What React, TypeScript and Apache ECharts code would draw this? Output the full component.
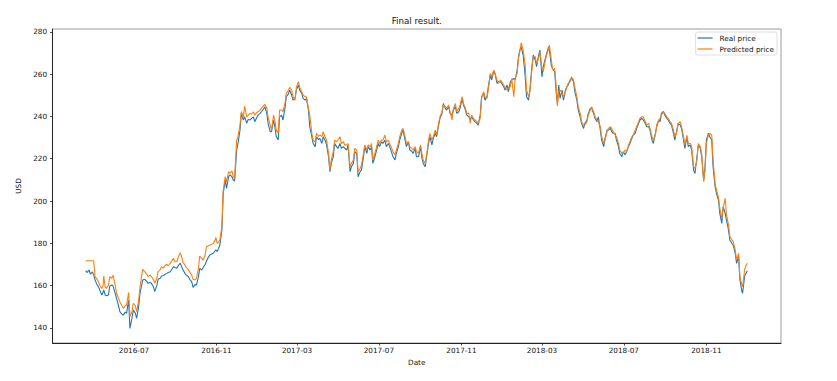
import React, { useEffect, useRef } from "react";
import * as echarts from "echarts";

const dates: string[] = [
  "2016-04-20","2016-04-22","2016-04-25","2016-04-27","2016-04-30","2016-05-02","2016-05-04","2016-05-07","2016-05-09","2016-05-11",
  "2016-05-14","2016-05-16","2016-05-17","2016-05-19","2016-05-21","2016-05-24","2016-05-26","2016-05-29","2016-05-31","2016-06-03",
  "2016-06-05","2016-06-08","2016-06-10","2016-06-13","2016-06-15","2016-06-18","2016-06-20","2016-06-23","2016-06-25","2016-06-28",
  "2016-06-30","2016-07-03","2016-07-05","2016-07-08","2016-07-10","2016-07-14","2016-07-17","2016-07-20","2016-07-22","2016-07-25",
  "2016-07-27","2016-07-30","2016-08-01","2016-08-04","2016-08-06","2016-08-09","2016-08-11","2016-08-14","2016-08-16","2016-08-19",
  "2016-08-21","2016-08-24","2016-08-26","2016-08-29","2016-08-31","2016-09-03","2016-09-05","2016-09-08","2016-09-10","2016-09-12",
  "2016-09-15","2016-09-17","2016-09-20","2016-09-22","2016-09-25","2016-09-27","2016-09-30","2016-10-02","2016-10-05","2016-10-07",
  "2016-10-10","2016-10-12","2016-10-15","2016-10-17","2016-10-20","2016-10-22","2016-10-25","2016-10-27","2016-10-30","2016-10-31",
  "2016-11-02","2016-11-04","2016-11-06","2016-11-09","2016-11-11","2016-11-14","2016-11-16","2016-11-19","2016-11-21","2016-11-24",
  "2016-11-26","2016-11-28","2016-12-01","2016-12-03","2016-12-06","2016-12-08","2016-12-11","2016-12-13","2016-12-16","2016-12-18",
  "2016-12-21","2016-12-23","2016-12-26","2016-12-28","2016-12-31","2017-01-02","2017-01-05","2017-01-07","2017-01-10","2017-01-12",
  "2017-01-15","2017-01-17","2017-01-20","2017-01-22","2017-01-25","2017-01-27","2017-01-29","2017-02-01","2017-02-03","2017-02-06",
  "2017-02-08","2017-02-11","2017-02-13","2017-02-16","2017-02-18","2017-02-21","2017-02-23","2017-02-26","2017-02-28","2017-03-03",
  "2017-03-05","2017-03-08","2017-03-10","2017-03-13","2017-03-15","2017-03-18","2017-03-20","2017-03-23","2017-03-25","2017-03-28",
  "2017-03-30","2017-04-02","2017-04-04","2017-04-07","2017-04-09","2017-04-12","2017-04-14","2017-04-17","2017-04-19","2017-04-21",
  "2017-04-24","2017-04-26","2017-04-29","2017-05-01","2017-05-04","2017-05-06","2017-05-09","2017-05-11","2017-05-14","2017-05-16",
  "2017-05-19","2017-05-21","2017-05-24","2017-05-26","2017-05-29","2017-05-31","2017-06-03","2017-06-05","2017-06-08","2017-06-10",
  "2017-06-13","2017-06-15","2017-06-18","2017-06-20","2017-06-22","2017-06-25","2017-06-27","2017-06-30","2017-07-02","2017-07-05",
  "2017-07-07","2017-07-10","2017-07-12","2017-07-15","2017-07-17","2017-07-20","2017-07-22","2017-07-25","2017-07-27","2017-07-30",
  "2017-08-01","2017-08-04","2017-08-06","2017-08-09","2017-08-11","2017-08-14","2017-08-16","2017-08-19","2017-08-21","2017-08-24",
  "2017-08-26","2017-08-29","2017-09-01","2017-09-03","2017-09-05","2017-09-08","2017-09-10","2017-09-13","2017-09-15","2017-09-18",
  "2017-09-20","2017-09-23","2017-09-25","2017-09-28","2017-09-30","2017-10-03","2017-10-05","2017-10-08","2017-10-10","2017-10-13",
  "2017-10-15","2017-10-18","2017-10-20","2017-10-23","2017-10-25","2017-10-28","2017-10-30","2017-11-02","2017-11-04","2017-11-07",
  "2017-11-09","2017-11-12","2017-11-14","2017-11-16","2017-11-19","2017-11-21","2017-11-24","2017-11-26","2017-11-29","2017-12-01",
  "2017-12-04","2017-12-06","2017-12-09","2017-12-11","2017-12-14","2017-12-16","2017-12-19","2017-12-21","2017-12-24","2017-12-26",
  "2017-12-29","2017-12-31","2018-01-03","2018-01-05","2018-01-08","2018-01-10","2018-01-13","2018-01-15","2018-01-18","2018-01-20",
  "2018-01-23","2018-01-25","2018-01-27","2018-01-29","2018-02-01","2018-02-04","2018-02-06","2018-02-09","2018-02-11","2018-02-14",
  "2018-02-16","2018-02-19","2018-02-21","2018-02-24","2018-02-26","2018-03-01","2018-03-03","2018-03-06","2018-03-08","2018-03-11",
  "2018-03-12","2018-03-15","2018-03-17","2018-03-20","2018-03-22","2018-03-24","2018-03-26","2018-03-28","2018-03-31","2018-04-02",
  "2018-04-05","2018-04-07","2018-04-09","2018-04-12","2018-04-14","2018-04-17","2018-04-19","2018-04-22","2018-04-24","2018-04-27",
  "2018-04-29","2018-05-02","2018-05-04","2018-05-07","2018-05-09","2018-05-12","2018-05-14","2018-05-17","2018-05-19","2018-05-22",
  "2018-05-24","2018-05-27","2018-05-29","2018-06-01","2018-06-03","2018-06-06","2018-06-08","2018-06-11","2018-06-13","2018-06-15",
  "2018-06-18","2018-06-20","2018-06-23","2018-06-25","2018-06-28","2018-06-30","2018-07-03","2018-07-05","2018-07-08","2018-07-10",
  "2018-07-13","2018-07-15","2018-07-18","2018-07-20","2018-07-23","2018-07-25","2018-07-28","2018-07-30","2018-08-02","2018-08-04",
  "2018-08-07","2018-08-09","2018-08-12","2018-08-14","2018-08-17","2018-08-19","2018-08-22","2018-08-24","2018-08-26","2018-08-29",
  "2018-08-31","2018-09-03","2018-09-05","2018-09-08","2018-09-10","2018-09-13","2018-09-15","2018-09-18","2018-09-20","2018-09-23",
  "2018-09-25","2018-09-28","2018-09-30","2018-10-03","2018-10-05","2018-10-08","2018-10-10","2018-10-13","2018-10-15","2018-10-18",
  "2018-10-20","2018-10-23","2018-10-25","2018-10-28","2018-10-30","2018-11-01","2018-11-04","2018-11-06","2018-11-09","2018-11-11",
  "2018-11-14","2018-11-16","2018-11-19","2018-11-21","2018-11-24","2018-11-26","2018-11-29","2018-12-01","2018-12-04","2018-12-06",
  "2018-12-09","2018-12-11","2018-12-14","2018-12-16","2018-12-19","2018-12-21","2018-12-24","2018-12-25","2018-12-28","2018-12-30",
  "2019-01-01"
];

const realPrice: number[] = [
  167.1,166.2,167.4,165.5,166.5,165.0,162.7,160.5,159.5,158.0,
  155.6,157.0,158.0,155.6,155.2,155.6,159.8,160.3,159.8,156.4,
  154.0,150.5,147.7,146.5,146.1,147.5,146.9,153.2,139.8,144.6,
  148.5,147.0,144.6,150.1,156.4,162.7,163.0,162.0,161.1,161.5,
  161.1,159.5,157.2,160.0,163.0,163.5,164.6,164.8,165.3,165.8,
  166.2,166.6,167.5,169.0,168.6,168.2,169.5,170.6,169.0,167.5,
  165.8,165.0,164.3,163.0,161.9,159.2,160.5,160.3,164.0,168.2,
  167.4,168.5,170.0,171.5,173.5,174.5,175.0,175.3,176.5,176.9,
  176.1,177.5,179.2,186.3,203.6,209.9,206.0,211.5,212.3,211.5,
  209.9,209.5,224.1,227.2,233.5,241.4,238.3,239.8,236.7,238.5,
  238.3,239.0,239.8,237.5,239.5,240.6,241.4,242.2,243.5,244.6,
  241.4,236.5,232.8,232.8,238.3,235.0,230.5,228.8,239.8,240.6,
  238.3,243.8,249.3,250.5,252.4,250.1,247.7,248.5,252.4,254.8,
  252.4,250.9,248.5,247.7,248.5,243.0,235.1,230.4,227.2,225.7,
  230.4,229.0,229.6,227.2,230.4,228.5,226.5,220.9,213.9,217.8,
  220.9,227.2,225.7,224.9,227.2,224.9,225.7,225.0,224.1,226.5,
  213.9,216.2,217.8,223.3,222.5,211.5,213.9,214.6,220.9,225.7,
  222.5,225.7,224.1,225.7,217.8,220.9,223.3,227.2,225.7,228.0,
  227.2,228.8,225.7,227.2,225.7,223.0,220.9,219.4,222.5,225.7,
  228.8,232.0,233.5,228.8,225.7,228.0,224.1,223.5,222.5,224.9,
  220.9,220.9,225.7,220.5,217.8,216.2,220.9,227.2,230.4,226.5,
  229.6,232.0,230.4,235.9,239.1,241.4,246.1,243.8,243.0,244.6,
  241.4,240.6,243.0,244.6,241.4,242.2,243.8,248.5,245.4,243.0,
  240.6,239.8,238.3,239.8,238.3,237.5,236.7,235.9,240.6,249.3,
  250.9,247.7,249.3,254.0,259.5,257.2,261.1,260.3,255.6,256.4,
  256.4,255.6,254.0,252.4,254.8,251.7,256.4,257.2,258.0,257.2,
  261.9,268.2,271.3,272.9,269.0,258.7,249.3,247.7,252.4,263.5,
  269.0,266.6,263.5,269.0,271.3,258.7,263.5,267.4,269.8,272.9,
  271.5,264.0,262.5,261.1,252.0,246.1,254.8,248.5,252.4,247.7,
  252.4,254.0,254.8,257.2,258.0,256.4,251.7,247.7,243.0,239.8,
  236.7,234.3,236.7,238.3,241.4,243.8,243.8,241.4,239.1,237.5,
  239.8,233.5,228.8,225.7,229.6,233.5,233.5,234.3,232.8,232.0,
  232.0,228.8,225.7,222.5,220.9,223.3,221.8,223.3,225.7,227.2,
  229.6,231.2,232.0,234.3,236.7,238.3,239.1,238.3,236.7,235.1,
  235.1,233.5,228.8,227.2,232.0,235.1,238.3,237.5,241.4,242.4,
  240.6,239.1,238.3,236.7,235.9,232.0,228.8,233.5,236.7,235.9,
  234.3,228.8,224.9,230.4,225.7,226.5,224.1,214.6,213.0,220.9,
  226.5,224.9,220.9,209.9,216.2,228.8,232.0,230.4,228.8,216.2,
  206.8,203.6,200.5,194.2,189.4,197.3,194.2,191.0,186.3,181.6,
  180.0,179.2,175.3,170.5,173.7,162.7,157.2,156.4,164.5,165.8,
  167.1
];

const predictedPrice: number[] = [
  171.8,171.8,171.8,171.8,171.8,171.8,164.3,163.0,161.9,160.3,
  158.7,160.0,164.6,159.5,158.7,160.3,164.3,163.5,164.9,160.3,
  156.4,154.0,152.4,150.5,149.3,150.5,150.9,156.7,145.4,147.7,
  151.7,150.5,147.7,153.2,159.5,167.7,166.6,165.5,164.3,165.0,
  164.3,163.0,161.1,163.5,166.6,167.5,169.0,168.2,169.5,170.1,
  169.3,170.6,171.5,172.9,171.3,171.3,173.5,175.6,173.7,171.0,
  169.8,168.5,167.7,166.5,165.0,163.0,162.7,163.5,168.0,174.0,
  172.9,172.0,174.5,178.4,178.8,179.2,179.6,180.0,181.5,182.8,
  180.0,180.5,181.6,187.9,205.2,211.5,209.1,213.9,213.1,214.3,
  211.5,210.7,228.8,230.4,235.9,242.2,239.8,244.9,239.8,240.5,
  241.4,241.0,242.2,240.6,241.8,242.2,243.0,243.8,245.0,245.8,
  243.8,239.5,235.9,233.5,240.6,238.0,233.5,232.0,243.0,243.0,
  242.2,246.1,250.9,252.2,253.7,252.4,249.3,247.7,253.7,256.4,
  253.7,251.7,250.1,249.3,249.3,243.8,240.6,232.0,228.8,228.0,
  232.0,230.5,231.2,230.4,232.8,230.0,228.8,222.5,214.6,219.4,
  223.3,228.8,228.0,228.8,230.4,227.2,228.0,226.5,226.5,227.2,
  216.2,217.8,219.4,224.9,224.1,213.9,215.4,216.9,222.5,226.5,
  224.1,226.5,225.7,227.2,219.4,222.5,224.9,228.8,227.2,228.8,
  228.8,231.2,227.8,228.8,227.2,225.0,223.3,221.8,224.1,227.2,
  230.4,233.5,234.3,230.4,227.2,228.0,225.7,224.9,224.1,225.7,
  223.3,222.5,226.5,222.5,219.4,217.8,221.5,228.8,232.0,228.8,
  230.4,233.5,231.2,236.7,239.8,242.2,245.4,244.6,243.8,245.4,
  242.2,238.3,243.8,246.1,242.2,243.8,245.4,249.3,246.1,243.8,
  241.4,241.4,236.7,240.6,239.1,238.3,237.5,236.7,239.1,248.5,
  251.7,249.3,248.5,252.4,260.3,258.7,261.9,260.3,257.2,255.6,
  257.2,256.4,254.8,253.7,252.4,253.7,254.0,257.9,249.3,257.9,
  260.3,267.4,270.5,274.8,271.3,264.3,252.4,249.3,251.7,261.9,
  268.2,268.2,265.0,267.4,270.5,262.7,261.1,266.6,269.0,272.1,
  273.7,266.6,261.9,262.7,254.8,244.9,251.7,252.4,250.9,249.3,
  251.7,253.7,255.6,256.4,258.7,257.2,253.7,249.3,244.6,241.4,
  237.5,235.9,235.9,237.5,240.6,243.0,244.6,242.2,239.8,238.3,
  237.5,235.1,230.4,227.2,228.8,232.8,234.3,235.1,234.3,232.8,
  231.2,230.4,227.2,224.1,222.5,222.5,224.1,223.3,226.5,228.0,
  230.4,231.2,233.5,235.1,237.5,239.1,239.8,239.8,237.5,235.9,
  236.7,234.3,230.4,228.8,231.2,235.9,238.3,239.1,240.6,242.2,
  241.4,239.8,239.1,237.5,236.7,233.5,230.4,232.8,236.7,237.5,
  235.1,230.4,226.5,231.2,227.2,227.2,225.7,216.2,215.4,219.4,
  227.2,225.7,222.5,209.1,214.6,227.2,231.2,232.0,231.2,219.4,
  208.3,205.2,202.0,196.6,191.8,196.6,201.3,193.4,188.7,183.2,
  181.6,180.8,176.9,172.1,175.3,164.3,160.3,159.5,167.5,169.5,
  170.6
];

const xTickLabels: string[] = ["2016-07", "2016-11", "2017-03", "2017-07", "2017-11", "2018-03", "2018-07", "2018-11"];
const yTickValues: number[] = [140, 160, 180, 200, 220, 240, 260, 280];

const FONT = "DejaVu Sans";

function toStamp(s: string): number {
  const [y, m, d] = s.split("-").map(Number);
  return new Date(y, m - 1, d || 1).getTime();
}

export default function App() {
  const ref = useRef<HTMLDivElement>(null);

  useEffect(() => {
    if (!ref.current) return;
    const chart = echarts.init(ref.current, undefined, { renderer: "svg" });
    const stamps = dates.map(toStamp);
    const realData = stamps.map((t, i) => [t, realPrice[i]]);
    const predData = stamps.map((t, i) => [t, predictedPrice[i]]);
    const xTicks = xTickLabels.map(toStamp);

    chart.setOption({
      animation: false,
      backgroundColor: "#ffffff",
      title: {
        text: "Final result.",
        left: 416.75,
        top: 16,
        textAlign: "center",
        padding: 0,
        textStyle: { fontFamily: FONT, fontSize: 8.7, fontWeight: "normal", color: "#111" },
      },
      legend: {
        data: ["Real price", "Predicted price"],
        orient: "vertical",
        right: 60,
        top: 32,
        padding: [2, 3, 2, 2],
        itemGap: 3,
        itemWidth: 15,
        itemHeight: 1.6,
        icon: "rect",
        itemStyle: { opacity: 0.75 },
        backgroundColor: "rgba(255,255,255,0.8)",
        borderColor: "#d6d6d6",
        borderWidth: 0.8,
        borderRadius: 2,
        textStyle: { fontFamily: FONT, fontSize: 7.25, color: "#111", lineHeight: 8, padding: [0, 0, 0, 2] },
      },
      grid: {
        left: 52.5,
        top: 29,
        width: 728.5,
        height: 314,
        outerBoundsMode: "none",
        containLabel: false,
        show: true,
        borderColor: "#9a9a9a",
        borderWidth: 1,
        backgroundColor: "transparent",
      },
      xAxis: {
        type: "value",
        min: new Date(2016, 2, 1, 14, 24).getTime(),
        max: new Date(2019, 1, 20, 5, 0).getTime(),
        scale: true,
        name: "Date",
        nameLocation: "middle",
        nameGap: 14.5,
        nameTextStyle: { fontFamily: FONT, fontSize: 7.25, color: "#111" },
        axisLine: { show: true, onZero: false, lineStyle: { color: "#222", width: 1 } },
        axisTick: { show: true, length: 2.5, inside: false, lineStyle: { color: "#222", width: 0.8 }, customValues: xTicks },
        axisLabel: {
          show: true,
          margin: 4,
          fontFamily: FONT,
          fontSize: 7.25,
          color: "#111",
          customValues: xTicks,
          hideOverlap: false,
          formatter: (v: number) => {
            const d = new Date(v);
            return `${d.getFullYear()}-${String(d.getMonth() + 1).padStart(2, "0")}`;
          },
        },
        splitLine: { show: false },
      },
      yAxis: {
        type: "value",
        min: 132.9,
        max: 281.3,
        scale: true,
        name: "USD",
        nameLocation: "middle",
        nameRotate: 90,
        nameGap: 23,
        nameTextStyle: { fontFamily: FONT, fontSize: 7.25, color: "#111" },
        axisLine: { show: true, onZero: false, lineStyle: { color: "#222", width: 1 } },
        axisTick: { show: true, length: 2.5, inside: false, lineStyle: { color: "#222", width: 0.8 }, customValues: yTickValues },
        axisLabel: {
          show: true,
          margin: 5.5,
          fontFamily: FONT,
          fontSize: 7.25,
          color: "#111",
          customValues: yTickValues,
        },
        splitLine: { show: false },
      },
      series: [
        {
          name: "Real price",
          type: "line",
          data: realData,
          showSymbol: false,
          symbol: "none",
          lineStyle: { color: "#1f77b4", width: 1.1 },
          itemStyle: { color: "#1f77b4" },
        },
        {
          name: "Predicted price",
          type: "line",
          data: predData,
          showSymbol: false,
          symbol: "none",
          lineStyle: { color: "#ff7f0e", width: 1.1 },
          itemStyle: { color: "#ff7f0e" },
        },
      ],
    });

    return () => chart.dispose();
  }, []);

  return (
    <div
      ref={ref}
      style={{ position: "fixed", left: 0, top: 0, width: 837, height: 381, background: "#fff" }}
    />
  );
}
